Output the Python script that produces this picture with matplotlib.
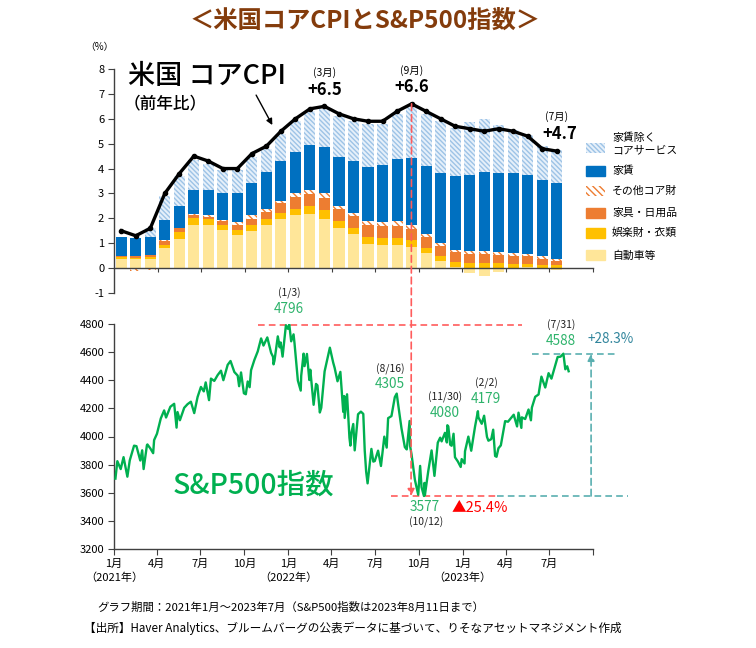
import numpy as np
import pandas as pd
import matplotlib
matplotlib.use('Agg')
import matplotlib.pyplot as plt
import matplotlib.dates as mdates
from matplotlib.patches import Rectangle, ConnectionPatch

plt.rcParams['font.family'] = ['Noto Sans CJK JP', 'DejaVu Sans']
plt.rcParams['axes.unicode_minus'] = False
plt.rcParams['hatch.linewidth'] = 1.0

# ---------------- data: core CPI (YoY, %) and contributions ----------------
months = pd.date_range('2021-01-01', '2023-07-01', freq='MS')
core_cpi = [1.5, 1.3, 1.6, 3.0, 3.8, 4.5, 4.3, 4.0, 4.0, 4.6, 4.9, 5.5,
            6.0, 6.4, 6.5, 6.2, 6.0, 5.9, 5.9, 6.3, 6.6, 6.3, 6.0, 5.7,
            5.6, 5.5, 5.6, 5.5, 5.3, 4.8, 4.7]
autos = [0.38, 0.35, 0.38, 0.82, 1.15, 1.75, 1.72, 1.55, 1.35, 1.48, 1.72, 1.99,
         2.12, 2.16, 1.99, 1.60, 1.36, 0.96, 0.93, 0.93, 0.83, 0.59, 0.27, 0.05,
         -0.21, -0.30, -0.17, -0.05, 0.03, -0.05, -0.08]
recreation = [0.05, 0.05, 0.05, 0.12, 0.30, 0.27, 0.24, 0.20, 0.18, 0.25, 0.25, 0.24,
              0.27, 0.33, 0.33, 0.29, 0.27, 0.27, 0.27, 0.27, 0.29, 0.21, 0.22, 0.18,
              0.20, 0.20, 0.20, 0.16, 0.14, 0.13, 0.13]
furnishings = [0.07, 0.08, 0.08, 0.16, 0.15, 0.13, 0.11, 0.14, 0.20, 0.25, 0.30, 0.37,
               0.48, 0.47, 0.51, 0.50, 0.46, 0.49, 0.49, 0.49, 0.47, 0.43, 0.40, 0.40,
               0.36, 0.36, 0.32, 0.33, 0.30, 0.23, 0.14]
other_goods = [-0.05, -0.10, -0.08, 0.03, 0.03, 0.04, 0.06, 0.06, 0.12, 0.14, 0.12, 0.09,
               0.13, 0.17, 0.17, 0.10, 0.14, 0.17, 0.18, 0.20, 0.16, 0.16, 0.11, 0.10,
               0.11, 0.11, 0.11, 0.10, 0.09, 0.11, 0.09]
rent = [0.76, 0.72, 0.76, 0.80, 0.85, 0.96, 1.02, 1.07, 1.17, 1.28, 1.46, 1.60,
        1.67, 1.80, 1.85, 1.98, 2.06, 2.18, 2.29, 2.50, 2.68, 2.73, 2.83, 2.99,
        3.09, 3.18, 3.20, 3.24, 3.20, 3.09, 3.07]
services_ex_rent = [0.00, 0.00, 0.35, 0.97, 1.22, 1.20, 1.05, 0.91, 0.91, 1.07, 0.95, 1.11,
                    1.23, 1.37, 1.55, 1.63, 1.61, 1.73, 1.64, 1.81, 2.07, 2.08, 2.07, 1.91,
                    2.13, 2.14, 1.93, 1.73, 1.60, 1.33, 1.33]
series_labels = ['自動車等', '娯楽財・衣類', '家具・日用品', 'その他コア財', '家賃', '家賃除く\nコアサービス']

# ---------------- data: S&P 500 ----------------
sp_dates = ['2021-01-04', '2021-01-08', '2021-01-15', '2021-01-21', '2021-01-27', '2021-01-29',
            '2021-02-03', '2021-02-12', '2021-02-17', '2021-02-25', '2021-03-01', '2021-03-04',
            '2021-03-11', '2021-03-12', '2021-03-18', '2021-03-24', '2021-03-26', '2021-04-01',
            '2021-04-09', '2021-04-16', '2021-04-20', '2021-04-29', '2021-05-07', '2021-05-12',
            '2021-05-14', '2021-05-19', '2021-05-28', '2021-06-04', '2021-06-11', '2021-06-18',
            '2021-06-25', '2021-07-02', '2021-07-08', '2021-07-12', '2021-07-19', '2021-07-23',
            '2021-07-30', '2021-08-06', '2021-08-13', '2021-08-18', '2021-08-27', '2021-09-02',
            '2021-09-10', '2021-09-17', '2021-09-20', '2021-09-24', '2021-09-30', '2021-10-04',
            '2021-10-08', '2021-10-12', '2021-10-15', '2021-10-22', '2021-10-29', '2021-11-05',
            '2021-11-10', '2021-11-18', '2021-11-26', '2021-11-30', '2021-12-01', '2021-12-03',
            '2021-12-10', '2021-12-14', '2021-12-16', '2021-12-20', '2021-12-27', '2021-12-31',
            '2022-01-03', '2022-01-07', '2022-01-12', '2022-01-14', '2022-01-21', '2022-01-27',
            '2022-01-28', '2022-02-02', '2022-02-04', '2022-02-09', '2022-02-14', '2022-02-16',
            '2022-02-23', '2022-02-28', '2022-03-03', '2022-03-08', '2022-03-11', '2022-03-18',
            '2022-03-29', '2022-04-05', '2022-04-08', '2022-04-14', '2022-04-20', '2022-04-26',
            '2022-04-28', '2022-04-29', '2022-05-04', '2022-05-09', '2022-05-11', '2022-05-13',
            '2022-05-17', '2022-05-20', '2022-05-27', '2022-06-02', '2022-06-07', '2022-06-10',
            '2022-06-13', '2022-06-16', '2022-06-24', '2022-06-28', '2022-07-01', '2022-07-08',
            '2022-07-14', '2022-07-21', '2022-07-26', '2022-07-29', '2022-08-05', '2022-08-12',
            '2022-08-16', '2022-08-19', '2022-08-26', '2022-09-02', '2022-09-06', '2022-09-12',
            '2022-09-13', '2022-09-16', '2022-09-23', '2022-09-30', '2022-10-04', '2022-10-07',
            '2022-10-12', '2022-10-13', '2022-10-14', '2022-10-21', '2022-10-28', '2022-11-03',
            '2022-11-10', '2022-11-15', '2022-11-18', '2022-11-25', '2022-11-29', '2022-11-30',
            '2022-12-02', '2022-12-06', '2022-12-09', '2022-12-13', '2022-12-16', '2022-12-22',
            '2022-12-28', '2022-12-30', '2023-01-05', '2023-01-06', '2023-01-13', '2023-01-19',
            '2023-01-27', '2023-02-02', '2023-02-03', '2023-02-10', '2023-02-15', '2023-02-21',
            '2023-02-24', '2023-03-02', '2023-03-06', '2023-03-10', '2023-03-13', '2023-03-17',
            '2023-03-22', '2023-03-31', '2023-04-06', '2023-04-14', '2023-04-18', '2023-04-25',
            '2023-04-28', '2023-05-04', '2023-05-05', '2023-05-12', '2023-05-19', '2023-05-24',
            '2023-05-26', '2023-06-02', '2023-06-09', '2023-06-15', '2023-06-23', '2023-06-30',
            '2023-07-06', '2023-07-14', '2023-07-19', '2023-07-25', '2023-07-31', '2023-08-03',
            '2023-08-04', '2023-08-08', '2023-08-11']
sp_values = [3700.65, 3824.68, 3768.25, 3853.07, 3750.77, 3714.24,
             3830.17, 3934.83, 3931.33, 3829.34, 3901.82, 3768.47,
             3939.34, 3943.34, 3915.46, 3881.37, 3974.54, 4019.87,
             4128.80, 4185.47, 4134.94, 4211.47, 4232.60, 4063.04,
             4173.85, 4115.68, 4204.11, 4229.89, 4247.44, 4166.45,
             4280.70, 4352.34, 4320.82, 4384.63, 4258.49, 4411.79,
             4395.26, 4436.52, 4468.00, 4400.27, 4509.37, 4536.95,
             4458.58, 4432.99, 4357.73, 4455.48, 4307.54, 4300.46,
             4391.34, 4350.65, 4471.37, 4544.90, 4605.38, 4697.53,
             4646.71, 4704.54, 4594.62, 4567.00, 4513.04, 4538.43,
             4712.02, 4634.09, 4668.67, 4568.02, 4791.19, 4766.18,
             4796.56, 4677.03, 4726.35, 4662.85, 4397.94, 4326.51,
             4431.85, 4589.38, 4500.53, 4587.18, 4401.67, 4475.01,
             4225.50, 4373.94, 4363.49, 4170.70, 4204.31, 4463.12,
             4631.60, 4525.12, 4488.28, 4392.59, 4459.45, 4175.20,
             4287.50, 4131.93, 4300.17, 3991.24, 3935.18, 4023.89,
             4088.85, 3901.36, 4158.24, 4176.82, 4160.68, 3900.86,
             3749.63, 3666.77, 3911.74, 3821.55, 3825.33, 3899.38,
             3790.38, 3998.95, 3921.05, 4130.29, 4145.19, 4280.15,
             4305.20, 4228.48, 4057.66, 3924.26, 3908.19, 4110.41,
             3932.69, 3873.33, 3693.23, 3585.62, 3790.93, 3639.66,
             3577.03, 3669.91, 3583.07, 3752.75, 3901.06, 3719.89,
             3956.37, 3991.73, 3965.34, 4026.12, 3957.63, 4080.11,
             4071.70, 3941.26, 3934.38, 4019.65, 3852.36, 3822.39,
             3783.22, 3839.50, 3808.10, 3895.08, 3999.09, 3898.85,
             4070.56, 4179.76, 4136.48, 4090.46, 4147.60, 3997.34,
             3970.04, 3981.35, 4048.42, 3861.59, 3855.76, 3916.64,
             3936.97, 4109.31, 4105.02, 4137.64, 4154.87, 4071.63,
             4169.48, 4061.22, 4136.25, 4124.08, 4191.98, 4115.24,
             4205.45, 4282.37, 4298.86, 4425.84, 4348.33, 4450.38,
             4411.59, 4505.42, 4565.72, 4567.46, 4588.96, 4501.89,
             4478.03, 4499.38, 4464.05]
sp_marks = {'1/3': '2022-01-03', '8/16': '2022-08-16', '10/12': '2022-10-12',
            '11/30': '2022-11-30', '2/2': '2023-02-02', '7/31': '2023-07-31'}
x_tick_labels = ['1月\n（2021年）', '4月', '7月', '10月', '1月\n（2022年）', '4月', '7月', '10月',
                 '1月\n（2023年）', '4月', '7月', '']

# ---------------- figure ----------------
W, H = 756, 648
fig = plt.figure(figsize=(W / 100, H / 100), dpi=100)
fig.patch.set_facecolor('white')


def px_text(x, y, s, **kw):
    kw.setdefault('ha', 'center')
    kw.setdefault('va', 'center')
    return fig.text(x / W, 1 - y / H, s, **kw)


AX_COL = '#404040'
GREEN = '#00B050'
GREEN_T = '#2DB36B'
RED = '#FF5C5C'
TEAL = '#5AAFB0'

# ---- top: core CPI ----
ax1 = fig.add_axes([114 / W, 1 - 293 / H, 479 / W, 224 / H])
x = np.arange(len(months))
styles = [
    dict(color='#FFE699'),
    dict(color='#FFC000'),
    dict(color='#ED7D31'),
    dict(facecolor='white', edgecolor='#ED7D31', hatch='\\' * 5, linewidth=0),
    dict(color='#0070C0'),
    dict(facecolor='#E6F0FA', edgecolor='#9DC3E6', hatch='\\' * 7, linewidth=0),
]
comps = [autos, recreation, furnishings, other_goods, rent, services_ex_rent]
pos_base = np.zeros(len(x))
neg_base = np.zeros(len(x))
bw = 0.76
for vals, st in zip(comps, styles):
    v = np.array(vals, dtype=float)
    pos = np.where(v > 0, v, 0)
    neg = np.where(v < 0, v, 0)
    ax1.bar(x, pos, bw, bottom=pos_base, zorder=2, **st)
    ax1.bar(x, neg, bw, bottom=neg_base, zorder=2, **st)
    pos_base += pos
    neg_base += neg

ax1.plot(x, core_cpi, color='black', lw=2.4, marker='o', ms=3, zorder=5)

ax1.set_xlim(-0.5, 32.5)
ax1.set_ylim(-1, 8)
ax1.set_yticks(range(-1, 9))
ax1.set_xticks(np.arange(2.5, 33, 3))
ax1.set_xticklabels([])
for s in ['top', 'right']:
    ax1.spines[s].set_visible(False)
ax1.spines['bottom'].set_position(('data', 0))
for s in ['left', 'bottom']:
    ax1.spines[s].set_color(AX_COL)
    ax1.spines[s].set_linewidth(1.0)
ax1.tick_params(axis='y', direction='out', length=4, color=AX_COL, labelsize=8, pad=3)
ax1.tick_params(axis='x', direction='out', length=3, color=AX_COL)

# peak labels
for idx, mlab in [(14, '(3月)'), (20, '(9月)'), (30, '(7月)')]:
    v = core_cpi[idx]
    dy = 1.35 if idx != 30 else 1.38
    ax1.text(idx, v + dy, mlab, ha='center', va='center', fontsize=7.5)
    ax1.text(idx + (0.2 if idx == 30 else 0), v + dy - 0.68, f'+{v}', ha='center', va='center',
             fontsize=12, fontweight='bold')

ax1.annotate('', xy=(10.5, 5.65), xytext=(9.2, 7.05),
             arrowprops=dict(arrowstyle='-|>', color='black', lw=1.0, mutation_scale=9))

px_text(99, 47, '（%）', fontsize=7)
px_text(128, 76, '米国 コアCPI', fontsize=19.5, ha='left', fontweight='medium')
px_text(124, 103, '（前年比）', fontsize=12, ha='left', fontweight='medium')

# legend (manual)
leg_rows = [(148, 5), (171, 4), (191, 3), (212.5, 2), (233, 1), (255.5, 0)]
for yc, k in leg_rows:
    st = styles[k]
    r = Rectangle((586 / W, 1 - (yc + 5) / H), 19 / W, 10 / H, transform=fig.transFigure,
                  **st)
    fig.add_artist(r)
    ty = yc - 4 if k == 5 else yc
    px_text(612, ty, series_labels[k], fontsize=7.8, ha='left', linespacing=1.3)

# ---- bottom: S&P 500 ----
ax2 = fig.add_axes([114 / W, 1 - 549 / H, 479 / W, 225 / H])
sp_d = pd.to_datetime(sp_dates)
ax2.plot(sp_d, sp_values, color=GREEN, lw=1.7, zorder=3)
x0, x1 = pd.Timestamp('2021-01-01'), pd.Timestamp('2023-10-01')
ax2.set_xlim(x0, x1)
ax2.set_ylim(3200, 4800)
ax2.set_yticks(range(3200, 4801, 200))
qticks = pd.date_range(x0, x1, freq='QS')
ax2.set_xticks(qticks)
ax2.set_xticklabels(x_tick_labels, fontsize=8, linespacing=1.45)
for s in ['top', 'right']:
    ax2.spines[s].set_visible(False)
for s in ['left', 'bottom']:
    ax2.spines[s].set_color(AX_COL)
    ax2.spines[s].set_linewidth(1.0)
ax2.tick_params(axis='y', direction='out', length=4, color=AX_COL, labelsize=8, pad=3)
ax2.tick_params(axis='x', direction='out', length=4, color=AX_COL, pad=3)

sp_series = pd.Series(sp_values, index=sp_d)
peak = sp_series[sp_marks['1/3']]
low = sp_series[sp_marks['10/12']]
last = sp_series[sp_marks['7/31']]
dash = (0, (4, 2.5))

ax2.hlines(int(peak), pd.Timestamp('2021-10-29'), pd.Timestamp('2023-05-06'), colors=RED,
           linestyles=dash, lw=1.2, zorder=2)
ax2.hlines(int(low), pd.Timestamp('2022-08-04'), pd.Timestamp('2023-03-15'), colors=RED,
           linestyles=dash, lw=1.2, zorder=2, clip_on=False)
ax2.hlines(int(low), pd.Timestamp('2023-03-15'), pd.Timestamp('2023-12-13'), colors=TEAL,
           linestyles=dash, lw=1.2, zorder=2, clip_on=False)
ax2.hlines(int(last), pd.Timestamp('2023-05-27'), pd.Timestamp('2023-11-22'), colors=TEAL,
           linestyles=dash, lw=1.2, zorder=2, clip_on=False)
ann = ax2.annotate('', xy=(pd.Timestamp('2023-09-27'), int(last)),
                   xytext=(pd.Timestamp('2023-09-27'), int(low)),
                   arrowprops=dict(arrowstyle='-|>', color=TEAL, lw=1.2, linestyle=dash,
                                   mutation_scale=10, shrinkA=0, shrinkB=0))
ann.set_clip_on(False)

# vertical red arrow linking September 2022 peak in CPI to S&P low
sep_idx = 20
sep_mid = months[sep_idx] + pd.Timedelta(days=14)
con = ConnectionPatch(xyA=(sep_idx, core_cpi[sep_idx]), coordsA=ax1.transData,
                      xyB=(mdates.date2num(sep_mid), int(low)), coordsB=ax2.transData,
                      arrowstyle='-|>', color=RED, lw=1.2, linestyle=dash,
                      mutation_scale=10, shrinkA=0, shrinkB=0, zorder=6)
fig.add_artist(con)

# S&P labels
def sp_label(xp, yd, yv, key):
    val = int(sp_series[sp_marks[key]])
    px_text(xp, yd, f'({key})', fontsize=7.5, color='#222222')
    px_text(xp, yv, f'{val}', fontsize=9.8, color=GREEN_T)

sp_label(289, 293, 309, '1/3')
sp_label(390, 369, 384, '8/16')
sp_label(445, 397, 413, '11/30')
sp_label(486, 383, 399, '2/2')
sp_label(561, 325, 341, '7/31')
px_text(425, 507, f'{int(low)}', fontsize=9.8, color=GREEN_T)
px_text(426, 522, '(10/12)', fontsize=7.5, color='#222222')
drop = (int(low) / int(peak) - 1) * 100
rise = (int(last) / int(low) - 1) * 100
px_text(452, 508, f'▲{abs(drop):.1f}%', fontsize=10.5, color='#FF0000', ha='left')
px_text(588, 339, f'+{rise:.1f}%', fontsize=9.8, color='#31859C', ha='left')
px_text(253, 485, 'S&P500指数', fontsize=20.5, color=GREEN, fontweight='medium')

# title and footer
px_text(365, 21, '＜米国コアCPIとS&P500指数＞', fontsize=17.5, fontweight='bold', color='#843C0C')
px_text(97, 607, 'グラフ期間：2021年1月～2023年7月（S&P500指数は2023年8月11日まで）',
        fontsize=8.2, ha='left')
px_text(84, 628, '【出所】Haver Analytics、ブルームバーグの公表データに基づいて、りそなアセットマネジメント作成',
        fontsize=8.4, ha='left')

fig.savefig('out.png', dpi=100, facecolor='white')
